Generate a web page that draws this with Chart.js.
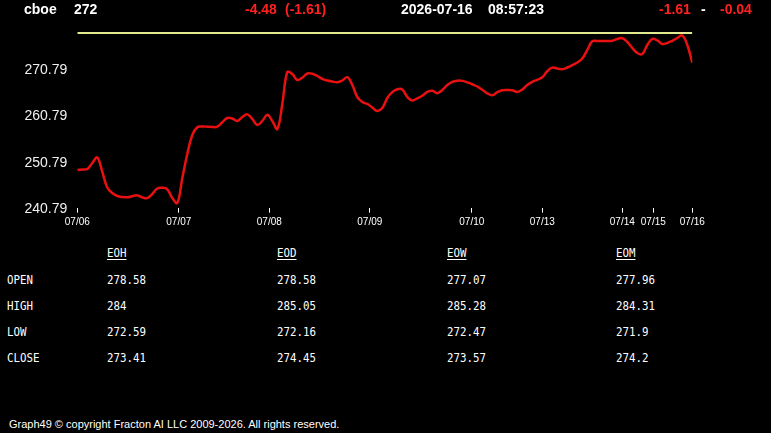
<!DOCTYPE html>
<html>
<head>
<meta charset="utf-8">
<script src="https://cdn.jsdelivr.net/npm/chart.js@4/dist/chart.umd.min.js"></script>
<style>
  html, body { margin:0; padding:0; background:#000; width:771px; height:433px; overflow:hidden; }
  #wrap { position:relative; width:771px; height:433px; background:#000; }
  #c { position:absolute; left:0; top:0; }
  .hd { position:absolute; top:0.5px; font:bold 14px "Liberation Sans", Arial, sans-serif; line-height:16px; color:#fff; white-space:pre; }
  .red { color:#ff2020; }
  .tb { position:absolute; font:13px "DejaVu Sans Mono", monospace; line-height:16px; color:#fff; white-space:pre; transform:scaleX(0.83); transform-origin:0 0; }
  .u { text-decoration:underline; text-underline-offset:2px; }
  #foot { position:absolute; left:9px; top:418px; font:11px "Liberation Sans", Arial, sans-serif; line-height:13px; color:#fff; white-space:pre; }
</style>
</head>
<body>
<div id="wrap">
  <canvas id="c" width="771" height="240"></canvas>
</div>
<script>
// ---- header values ----
const symbol = 'cboe';
const lastPrice = '272';
const change = '-4.48';
const changePct = '(-1.61)';
const dateStr = '2026-07-16';
const timeStr = '08:57:23';
const rightA = '-1.61';
const rightB = '-0.04';

// ---- chart data ----
const dayTickPos = [0, 20.3, 38.4, 58.5, 78.9, 93, 109, 115.2, 123];
const dayTickLabels = ['07/06','07/07','07/08','07/09','07/10','07/13','07/14','07/15','07/16'];
const yTickValues = [240.79, 250.79, 260.79, 270.79];
const refLevel = 278.4;
const prices = [
  248.91, 249.01, 249.12, 250.41, 251.60, 248.48, 245.14, 243.95, 243.31, 243.09,
  243.03, 243.27, 243.44, 243.01, 242.84, 243.74, 244.92, 245.07, 244.75, 242.88,
  241.80, 247.18, 252.35, 256.44, 258.12, 258.25, 258.23, 258.16, 258.23, 259.18,
  260.10, 259.99, 259.46, 260.32, 260.88, 259.89, 258.59, 259.46, 260.79, 259.46,
  257.73, 263.12, 270.00, 269.57, 268.28, 268.76, 269.68, 269.62, 269.14, 268.50,
  268.17, 267.96, 267.79, 268.17, 268.88, 267.21, 264.62, 263.55, 263.12, 262.36,
  261.61, 262.25, 264.41, 265.66, 266.28, 266.24, 264.62, 263.87, 264.34, 264.90,
  265.70, 265.96, 265.44, 266.13, 267.21, 267.89, 268.13, 268.09, 267.77, 267.36,
  266.88, 266.17, 265.42, 264.99, 265.66, 266.06, 266.13, 266.06, 265.70, 266.24,
  267.21, 267.89, 268.32, 268.86, 270.18, 270.95, 270.76, 270.59, 270.97, 271.49,
  272.05, 272.91, 274.74, 276.61, 276.68, 276.66, 276.66, 276.74, 277.11, 277.28,
  276.46, 275.17, 274.09, 273.88, 275.82, 277.15, 276.79, 276.03, 276.25, 276.72,
  277.32, 277.86, 275.82, 272.01
];

// ---- table data ----
const tableCols = ['EOH', 'EOD', 'EOW', 'EOM'];
const tableRows = ['OPEN', 'HIGH', 'LOW', 'CLOSE'];
const openVals  = [278.58, 278.58, 277.07, 277.96];
const highVals  = [284, 285.05, 285.28, 284.31];
const lowVals   = [272.59, 272.16, 272.47, 271.9];
const closeVals = [273.41, 274.45, 273.57, 274.2];
const footerText = 'Graph49 \u00A9 copyright Fracton AI LLC 2009-2026. All rights reserved.';

// ---- build header ----
const wrap = document.getElementById('wrap');
function addText(cls, txt, left, top) {
  const d = document.createElement('div');
  d.className = cls;
  d.textContent = txt;
  d.style.left = left + 'px';
  if (top !== undefined) d.style.top = top + 'px';
  wrap.appendChild(d);
  return d;
}
addText('hd', symbol, 24);
addText('hd', lastPrice, 74);
addText('hd red', change, 245);
addText('hd red', changePct, 285);
addText('hd', dateStr, 401);
addText('hd', timeStr, 488);
addText('hd red', rightA, 659);
addText('hd', '-', 701);
addText('hd red', rightB, 720);

// ---- build table ----
const colX = [107, 277, 447, 616];
const headTop = 245;
const rowTops = [271.7, 297.8, 323.8, 349.6];
const rowVals = [openVals, highVals, lowVals, closeVals];
tableCols.forEach((c, j) => addText('tb u', c, colX[j], headTop));
tableRows.forEach((r, i) => {
  addText('tb', r, 7, rowTops[i]);
  rowVals[i].forEach((v, j) => addText('tb', String(v), colX[j], rowTops[i]));
});
const f = document.createElement('div');
f.id = 'foot';
f.textContent = footerText;
wrap.appendChild(f);

// ---- chart ----
const yMax = 279;
const chart = new Chart(document.getElementById('c'), {
  type: 'line',
  data: {
    datasets: [
      {
        data: prices.map((v, i) => ({ x: i, y: v })),
        borderColor: '#e81010',
        borderWidth: 2.5,
        pointRadius: 0,
        tension: 0.4,
        fill: false
      },
      {
        data: [{ x: 0, y: refLevel }, { x: prices.length - 1, y: refLevel }],
        borderColor: '#e2ea90',
        borderWidth: 2,
        pointRadius: 0,
        tension: 0,
        fill: false
      }
    ]
  },
  options: {
    responsive: false,
    animation: false,
    devicePixelRatio: 1,
    layout: { padding: { top: 30.2, right: 78.7, left: 0, bottom: 0 } },
    plugins: { legend: { display: false }, tooltip: { enabled: false } },
    scales: {
      x: {
        type: 'linear',
        min: 0,
        max: prices.length - 1,
        afterBuildTicks: (axis) => { axis.ticks = dayTickPos.map(v => ({ value: v })); },
        afterFit: (axis) => { axis.height = 240 - 207.7; },
        ticks: {
          color: '#fff',
          font: { family: '"Liberation Sans", Arial, sans-serif', size: 10 },
          padding: 4,
          maxRotation: 0,
          autoSkip: false,
          callback: (v) => {
            const k = dayTickPos.indexOf(v);
            return k >= 0 ? dayTickLabels[k] : '';
          }
        },
        grid: { drawOnChartArea: false, drawTicks: true, tickLength: 5, color: '#fff', tickColor: '#fff', lineWidth: 1 },
        border: { display: false }
      },
      y: {
        type: 'linear',
        min: yTickValues[0],
        max: yMax,
        afterBuildTicks: (axis) => { axis.ticks = yTickValues.map(v => ({ value: v })); },
        afterFit: (axis) => { axis.width = 77.3; },
        ticks: {
          color: '#f0f0f0',
          font: { family: '"Liberation Sans", Arial, sans-serif', size: 14 },
          padding: 10,
          labelOffset: 1.5,
          callback: (v) => Number(v).toFixed(2)
        },
        grid: { display: false, drawTicks: false },
        border: { display: false }
      }
    }
  }
});
</script>
</body>
</html>
